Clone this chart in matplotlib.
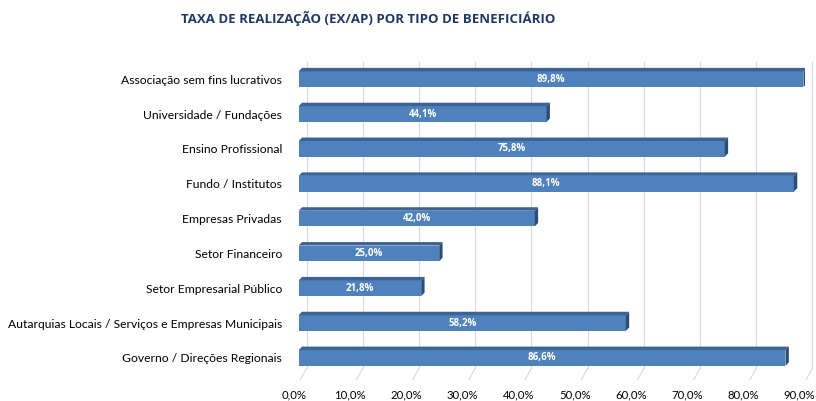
import matplotlib.pyplot as plt
import matplotlib.transforms as mtransforms
from matplotlib.patches import Polygon

categorias = [
    'Associação sem fins lucrativos',
    'Universidade / Fundações',
    'Ensino Profissional',
    'Fundo / Institutos',
    'Empresas Privadas',
    'Setor Financeiro',
    'Setor Empresarial Público',
    'Autarquias Locais / Serviços e Empresas Municipais',
    'Governo / Direções Regionais',
]
taxas = [89.8, 44.1, 75.8, 88.1, 42.0, 25.0, 21.8, 58.2, 86.6]
ticks = [0, 10, 20, 30, 40, 50, 60, 70, 80, 90]

plt.rcParams['font.family'] = ['Lato', 'DejaVu Sans']
negrito = ['Open Sans', 'DejaVu Sans']

fig = plt.figure(figsize=(8.16, 4.01), dpi=100)
ax = fig.add_axes([0.366, 0.064, 0.62, 0.782])

cor_frente = '#4F81BD'
cor_topo = '#3B6393'
cor_lado = '#2C4D75'
h = 0.45
dx, dy = 0.6, 0.1    # profundidade das barras
gdx = 1.4            # deslocamento da parede de fundo

# grelha de fundo e linhas do chao
for t in ticks:
    ax.plot([t + gdx, t + gdx], [-0.5, 8.3], color='#D9D9D9', lw=0.8, zorder=0, clip_on=False)
    ax.plot([t + 0.3, t + gdx], [8.62, 8.3], color='#D9D9D9', lw=0.8, zorder=0, clip_on=False)

y = list(range(len(categorias)))
ax.barh(y, taxas, height=h, color=cor_frente, zorder=3)

for i, v in enumerate(taxas):
    top = i - h / 2
    bot = i + h / 2
    ax.add_patch(Polygon([(0, top), (v, top), (v + dx, top - dy), (dx, top - dy)],
                         closed=True, color=cor_topo, zorder=3, lw=0))
    ax.add_patch(Polygon([(v, top), (v + dx, top - dy), (v + dx, bot - dy), (v, bot)],
                         closed=True, color=cor_lado, zorder=3, lw=0))
    ax.text(v / 2, i, f'{v:.1f}%'.replace('.', ','), ha='center', va='center',
            color='white', fontsize=7, fontweight='bold', family=negrito, zorder=4)

ax.set_xlim(0, 90)
ax.set_ylim(8.5, -0.5)
ax.set_yticks(y)
ax.set_yticklabels(categorias, fontsize=8.7)
ax.set_xticks(ticks)
ax.set_xticklabels([f'{t:.1f}%'.replace('.', ',') for t in ticks], fontsize=8.2)
ax.tick_params(axis='both', length=0)
ax.tick_params(axis='x', pad=10)
ax.tick_params(axis='y', pad=12)
desloc = mtransforms.ScaledTranslation(-5 / 100, 0, fig.dpi_scale_trans)
for lbl in ax.get_xticklabels():
    lbl.set_transform(lbl.get_transform() + desloc)
for s in ax.spines.values():
    s.set_visible(False)

fig.text(0.451, 0.953, 'TAXA DE REALIZAÇÃO (EX/AP) POR TIPO DE BENEFICIÁRIO',
         ha='center', va='center', fontsize=9.5, fontweight='bold', family=negrito,
         color='#1F3864')

fig.savefig('out.png', dpi=100)
